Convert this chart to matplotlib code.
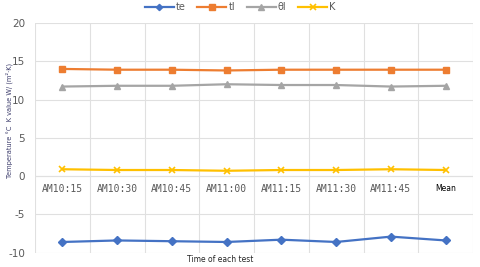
import matplotlib
matplotlib.use("Agg")
import matplotlib.pyplot as plt

categories = ["AM10:15", "AM10:30", "AM10:45", "AM11:00", "AM11:15", "AM11:30", "AM11:45", "Mean"]
te = [-8.6, -8.4, -8.5, -8.6, -8.3, -8.6, -7.9, -8.4]
tl = [14.0, 13.9, 13.9, 13.8, 13.9, 13.9, 13.9, 13.9]
theta_l = [11.7, 11.8, 11.8, 12.0, 11.9, 11.9, 11.7, 11.8]
K = [0.9, 0.8, 0.8, 0.7, 0.8, 0.8, 0.9, 0.8]
yticks = [-10, -5, 0, 5, 10, 15, 20]

fig = plt.figure(figsize=(4.8, 2.67), dpi=100)
ax = fig.add_axes([35/480, 1-252.7/267, (473-35)/480, (252.7-23)/267])

x = list(range(len(categories)))
ax.plot(x, te, color="#4472C4", marker="D", markersize=4, lw=1.6, label="te")
ax.plot(x, tl, color="#ED7D31", marker="s", markersize=5, lw=1.6, label="tl")
ax.plot(x, theta_l, color="#A5A5A5", marker="^", markersize=5, lw=1.6, label="θl")
ax.plot(x, K, color="#FFC000", marker="x", markersize=5, mew=1.2, lw=1.6, label="K")

ax.set_xlim(-0.5, len(categories) - 0.5)
ax.set_ylim(-10, 20)
ax.set_yticks(yticks)
ax.set_yticklabels([str(v) for v in yticks], fontsize=7.5, color="#595959")
ax.tick_params(axis="y", length=0, pad=7)
ax.set_xticks([i - 0.5 for i in range(len(categories) + 1)])
ax.set_xticklabels([])
ax.tick_params(axis="x", length=0)
ax.grid(True, color="#E0E0E0", lw=0.8)
ax.set_axisbelow(True)
for s in ax.spines.values():
    s.set_visible(False)
ax.axhline(0, color="#E0E0E0", lw=0.8, zorder=0)

for i, lab in enumerate(categories):
    if lab == "Mean":
        ax.annotate(lab, (i, 0), xytext=(0, -6), textcoords="offset points",
                    ha="center", va="top", fontsize=5.5, color="#000000",
                    family="DejaVu Sans")
    else:
        ax.annotate(lab, (i, 0), xytext=(0, -6), textcoords="offset points",
                    ha="center", va="top", fontsize=7, color="#595959",
                    family="DejaVu Sans Mono")

fig.text(220/480, 1-260/267, "Time of each test", ha="center", va="center",
         fontsize=5.5, color="#262626")
fig.text(9/480, 1-120/267, "Temperature °C  K value W/ (m²·K)", rotation=90,
         ha="center", va="center", fontsize=4.8, color="#3A3A6A")

leg = fig.legend(loc="center", bbox_to_anchor=(240/480, 1-7/267), ncol=4, frameon=False,
                 fontsize=7, handlelength=3, columnspacing=1.2, handletextpad=0.2,
                 labelcolor="#595959", markerscale=0.8)

fig.savefig("out.png", dpi=100)
